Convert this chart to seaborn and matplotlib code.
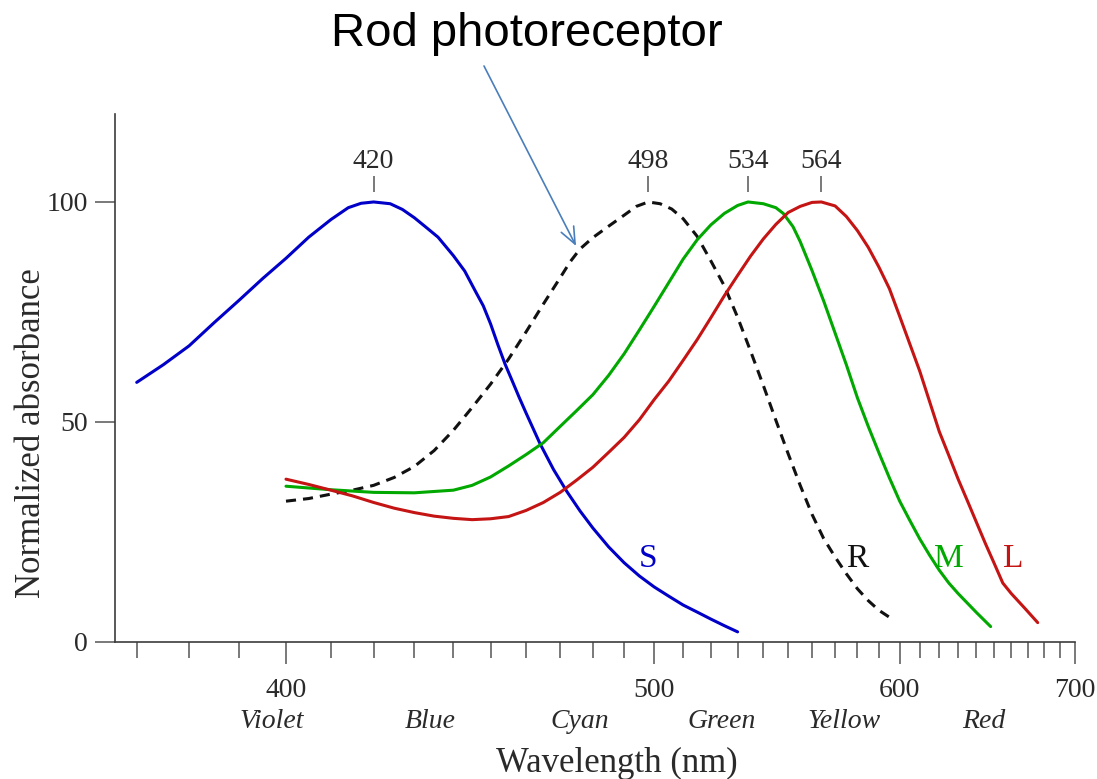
import numpy as np
import pandas as pd
import matplotlib
matplotlib.use("Agg")
import matplotlib.pyplot as plt
from matplotlib.ticker import FixedLocator, NullFormatter
from matplotlib.transforms import blended_transform_factory
import seaborn as sns

# Absorbance spectra of the human visual pigments (normalized to 100 at peak)
s_wl = [370, 375, 380, 385, 390, 395, 400, 405, 410, 414, 417, 420, 424, 427,
        430, 433, 436, 440, 443, 446, 448, 450, 452, 454, 456, 458, 460, 464,
        468, 472, 476, 480, 485, 490, 495, 500, 505, 510, 515, 520, 525, 530]
s_val = [59.0, 63.0, 67.3, 72.6, 77.6, 82.6, 87.2, 92.0, 96.0, 98.7, 99.7, 100,
         99.6, 98.3, 96.4, 94.2, 92.0, 87.8, 84.3, 79.5, 76.4, 72.3, 67.6, 63.2,
         59.4, 55.6, 52.0, 45.1, 39.2, 34.2, 29.8, 25.9, 21.6, 18.0, 15.0, 12.5,
         10.4, 8.4, 6.8, 5.2, 3.7, 2.3]

r_wl = [400, 405, 410, 415, 420, 425, 430, 435, 440, 445, 450, 455, 460, 465,
        470, 473, 476, 480, 485, 490, 494, 498, 502, 506, 510, 515, 520, 525,
        530, 535, 540, 545, 550, 555, 560, 565, 570, 575, 580, 585, 590, 597]
r_val = [32.0, 32.6, 33.6, 34.5, 35.6, 37.4, 39.9, 43.5, 48.1, 53.3, 58.6, 64.3,
         70.5, 76.8, 82.8, 86.4, 89.3, 91.9, 94.5, 97.0, 99.0, 100, 99.6, 98.4,
         96.2, 92.2, 86.6, 80.9, 73.8, 66.1, 58.3, 50.4, 42.8, 35.6, 29.0, 23.5,
         19.3, 15.5, 12.1, 9.4, 7.2, 5.0]

m_wl = [400, 410, 420, 430, 440, 445, 450, 455, 460, 465, 470, 475, 480, 485,
        490, 495, 500, 505, 510, 515, 520, 525, 530, 534, 540, 545, 548, 552,
        555, 560, 565, 570, 575, 580, 585, 590, 595, 600, 605, 610, 615, 620,
        625, 630, 640, 648]
m_val = [35.4, 34.6, 34.0, 33.9, 34.5, 35.6, 37.5, 40.0, 42.6, 45.3, 49.0, 52.6,
         56.2, 60.6, 65.5, 70.9, 76.3, 81.7, 87.0, 91.4, 94.8, 97.4, 99.2, 100,
         99.6, 98.7, 97.4, 94.4, 91.0, 84.4, 77.5, 70.2, 63.0, 55.5, 49.0, 43.0,
         37.3, 32.0, 27.6, 23.4, 19.7, 16.3, 13.4, 11.0, 6.7, 3.5]

l_wl = [400, 405, 410, 415, 420, 425, 430, 435, 440, 445, 450, 455, 460, 465,
        470, 475, 480, 485, 490, 495, 500, 505, 510, 515, 520, 525, 530, 535,
        540, 545, 550, 555, 560, 564, 570, 575, 580, 585, 590, 595, 600, 605,
        610, 615, 620, 625, 630, 635, 640, 645, 650, 655, 660, 668, 676]
l_val = [37.0, 35.8, 34.5, 33.2, 31.7, 30.4, 29.4, 28.6, 28.1, 27.8, 28.0, 28.5,
         29.9, 31.7, 34.0, 36.8, 39.7, 43.1, 46.5, 50.5, 55.1, 59.3, 64.0, 68.7,
         73.7, 78.7, 83.3, 87.7, 91.6, 94.9, 97.6, 99.0, 99.9, 100, 99.1, 96.7,
         93.5, 89.7, 85.2, 80.3, 74.0, 67.7, 61.5, 54.6, 47.8, 42.4, 37.0, 32.1,
         27.2, 22.4, 17.9, 13.4, 11.0, 7.7, 4.4]

pigments = ["S", "R", "M", "L"]
peak_wl = [420, 498, 534, 564]
major_ticks = [400, 500, 600, 700]
minor_ticks = [w for w in range(370, 700, 10) if w not in major_ticks]
y_ticks = [0, 50, 100]
color_names = ["Violet", "Blue", "Cyan", "Green", "Yellow", "Red"]
color_centres = [397, 434, 476, 524, 574, 644]
curve_label_wl = [498, 580, 625, 661]

palette = {"S": "#0000c8", "R": "#111111", "M": "#00a800", "L": "#c41414"}
dashes = {"S": "", "R": (3.3, 2.3), "M": "", "L": ""}

sns.set_style("ticks")
plt.rcParams["font.family"] = ["Liberation Serif", "DejaVu Serif"]
text_grey = "#2a2a2a"
axis_grey = "#3c3c3c"

frames = [pd.DataFrame({"wavelength": wl, "absorbance": val, "pigment": name})
          for name, wl, val in [("S", s_wl, s_val), ("R", r_wl, r_val),
                                ("M", m_wl, m_val), ("L", l_wl, l_val)]]
df = pd.concat(frames, ignore_index=True)

fig = plt.figure(figsize=(10.97, 7.79), dpi=100)
ax = fig.add_axes([0.1048, 0.1759, 0.8752, 0.6778])

sns.lineplot(data=df, x="wavelength", y="absorbance", hue="pigment",
             style="pigment", hue_order=pigments, style_order=pigments,
             palette=palette, dashes=dashes, linewidth=2.2, estimator=None,
             legend=False, ax=ax)
for line in ax.get_lines():
    line.set_solid_joinstyle("round")


# wavenumber-like axis: position proportional to -1/wavelength
def _fwd(w):
    w = np.asarray(w, dtype=float)
    with np.errstate(divide="ignore", invalid="ignore"):
        return -1.0 / w


def _inv(u):
    u = np.asarray(u, dtype=float)
    with np.errstate(divide="ignore", invalid="ignore"):
        return -1.0 / u


ax.set_xscale("function", functions=(_fwd, _inv))
ax.set_xlim(366, 700)
ax.set_ylim(0, 120)

ax.xaxis.set_major_locator(FixedLocator(major_ticks))
ax.xaxis.set_minor_locator(FixedLocator(minor_ticks))
ax.xaxis.set_minor_formatter(NullFormatter())
ax.set_xticklabels([str(t) for t in major_ticks])
ax.yaxis.set_major_locator(FixedLocator(y_ticks))
ax.yaxis.set_minor_locator(FixedLocator([]))
ax.set_yticklabels([str(t) for t in y_ticks])

for side in ("top", "right"):
    ax.spines[side].set_visible(False)
for side in ("left", "bottom"):
    ax.spines[side].set_color(axis_grey)
    ax.spines[side].set_linewidth(1.2)

ax.tick_params(axis="x", which="major", direction="out", length=16, width=1.1,
               color="#555555", pad=10, labelsize=20, labelcolor=text_grey)
ax.tick_params(axis="x", which="minor", direction="out", length=11.5, width=1.1,
               color="#555555")
ax.tick_params(axis="y", which="major", direction="out", length=14.5, width=1.1,
               color="#555555", pad=5, labelsize=20, labelcolor=text_grey)

ax.set_xlabel("Wavelength (nm)", fontsize=25, color=text_grey)
ax.xaxis.set_label_coords(0.523, -0.198)
ax.set_ylabel("Normalized absorbance", fontsize=25, color=text_grey)
ax.yaxis.set_label_coords(-0.07, 0.396)

# spectral colour names below the wavelength ticks
trans = blended_transform_factory(ax.transData, ax.transAxes)
for name, wl in zip(color_names, color_centres):
    ax.text(wl, -0.15, name, transform=trans, ha="center", va="center",
            fontsize=20, style="italic", color=text_grey)

# peak wavelengths with small marker lines
for wl in peak_wl:
    ax.plot([wl, wl], [102.3, 105.9], color="#555555", lw=1.1,
            solid_capstyle="butt")
    ax.text(wl, 107.7, str(wl), ha="center", va="baseline", fontsize=20,
            color=text_grey)

# curve letters
for name, wl in zip(pigments, curve_label_wl):
    ax.text(wl, 19.0, name, ha="center", va="center", fontsize=24,
            color=palette[name])

fig.text(0.4804, 0.9410, "Rod photoreceptor", ha="center", va="baseline",
         fontsize=34, family=["Liberation Sans", "DejaVu Sans"], color="black")
ax.annotate("", xy=(474.8, 90.0), xycoords="data",
            xytext=(0.4412, 0.9153), textcoords="figure fraction",
            arrowprops=dict(arrowstyle="->,head_length=0.6,head_width=0.25",
                            mutation_scale=20, color="#4a7ebb", lw=1.2,
                            shrinkA=0, shrinkB=0))

fig.savefig("out.png", dpi=100, facecolor="white")
